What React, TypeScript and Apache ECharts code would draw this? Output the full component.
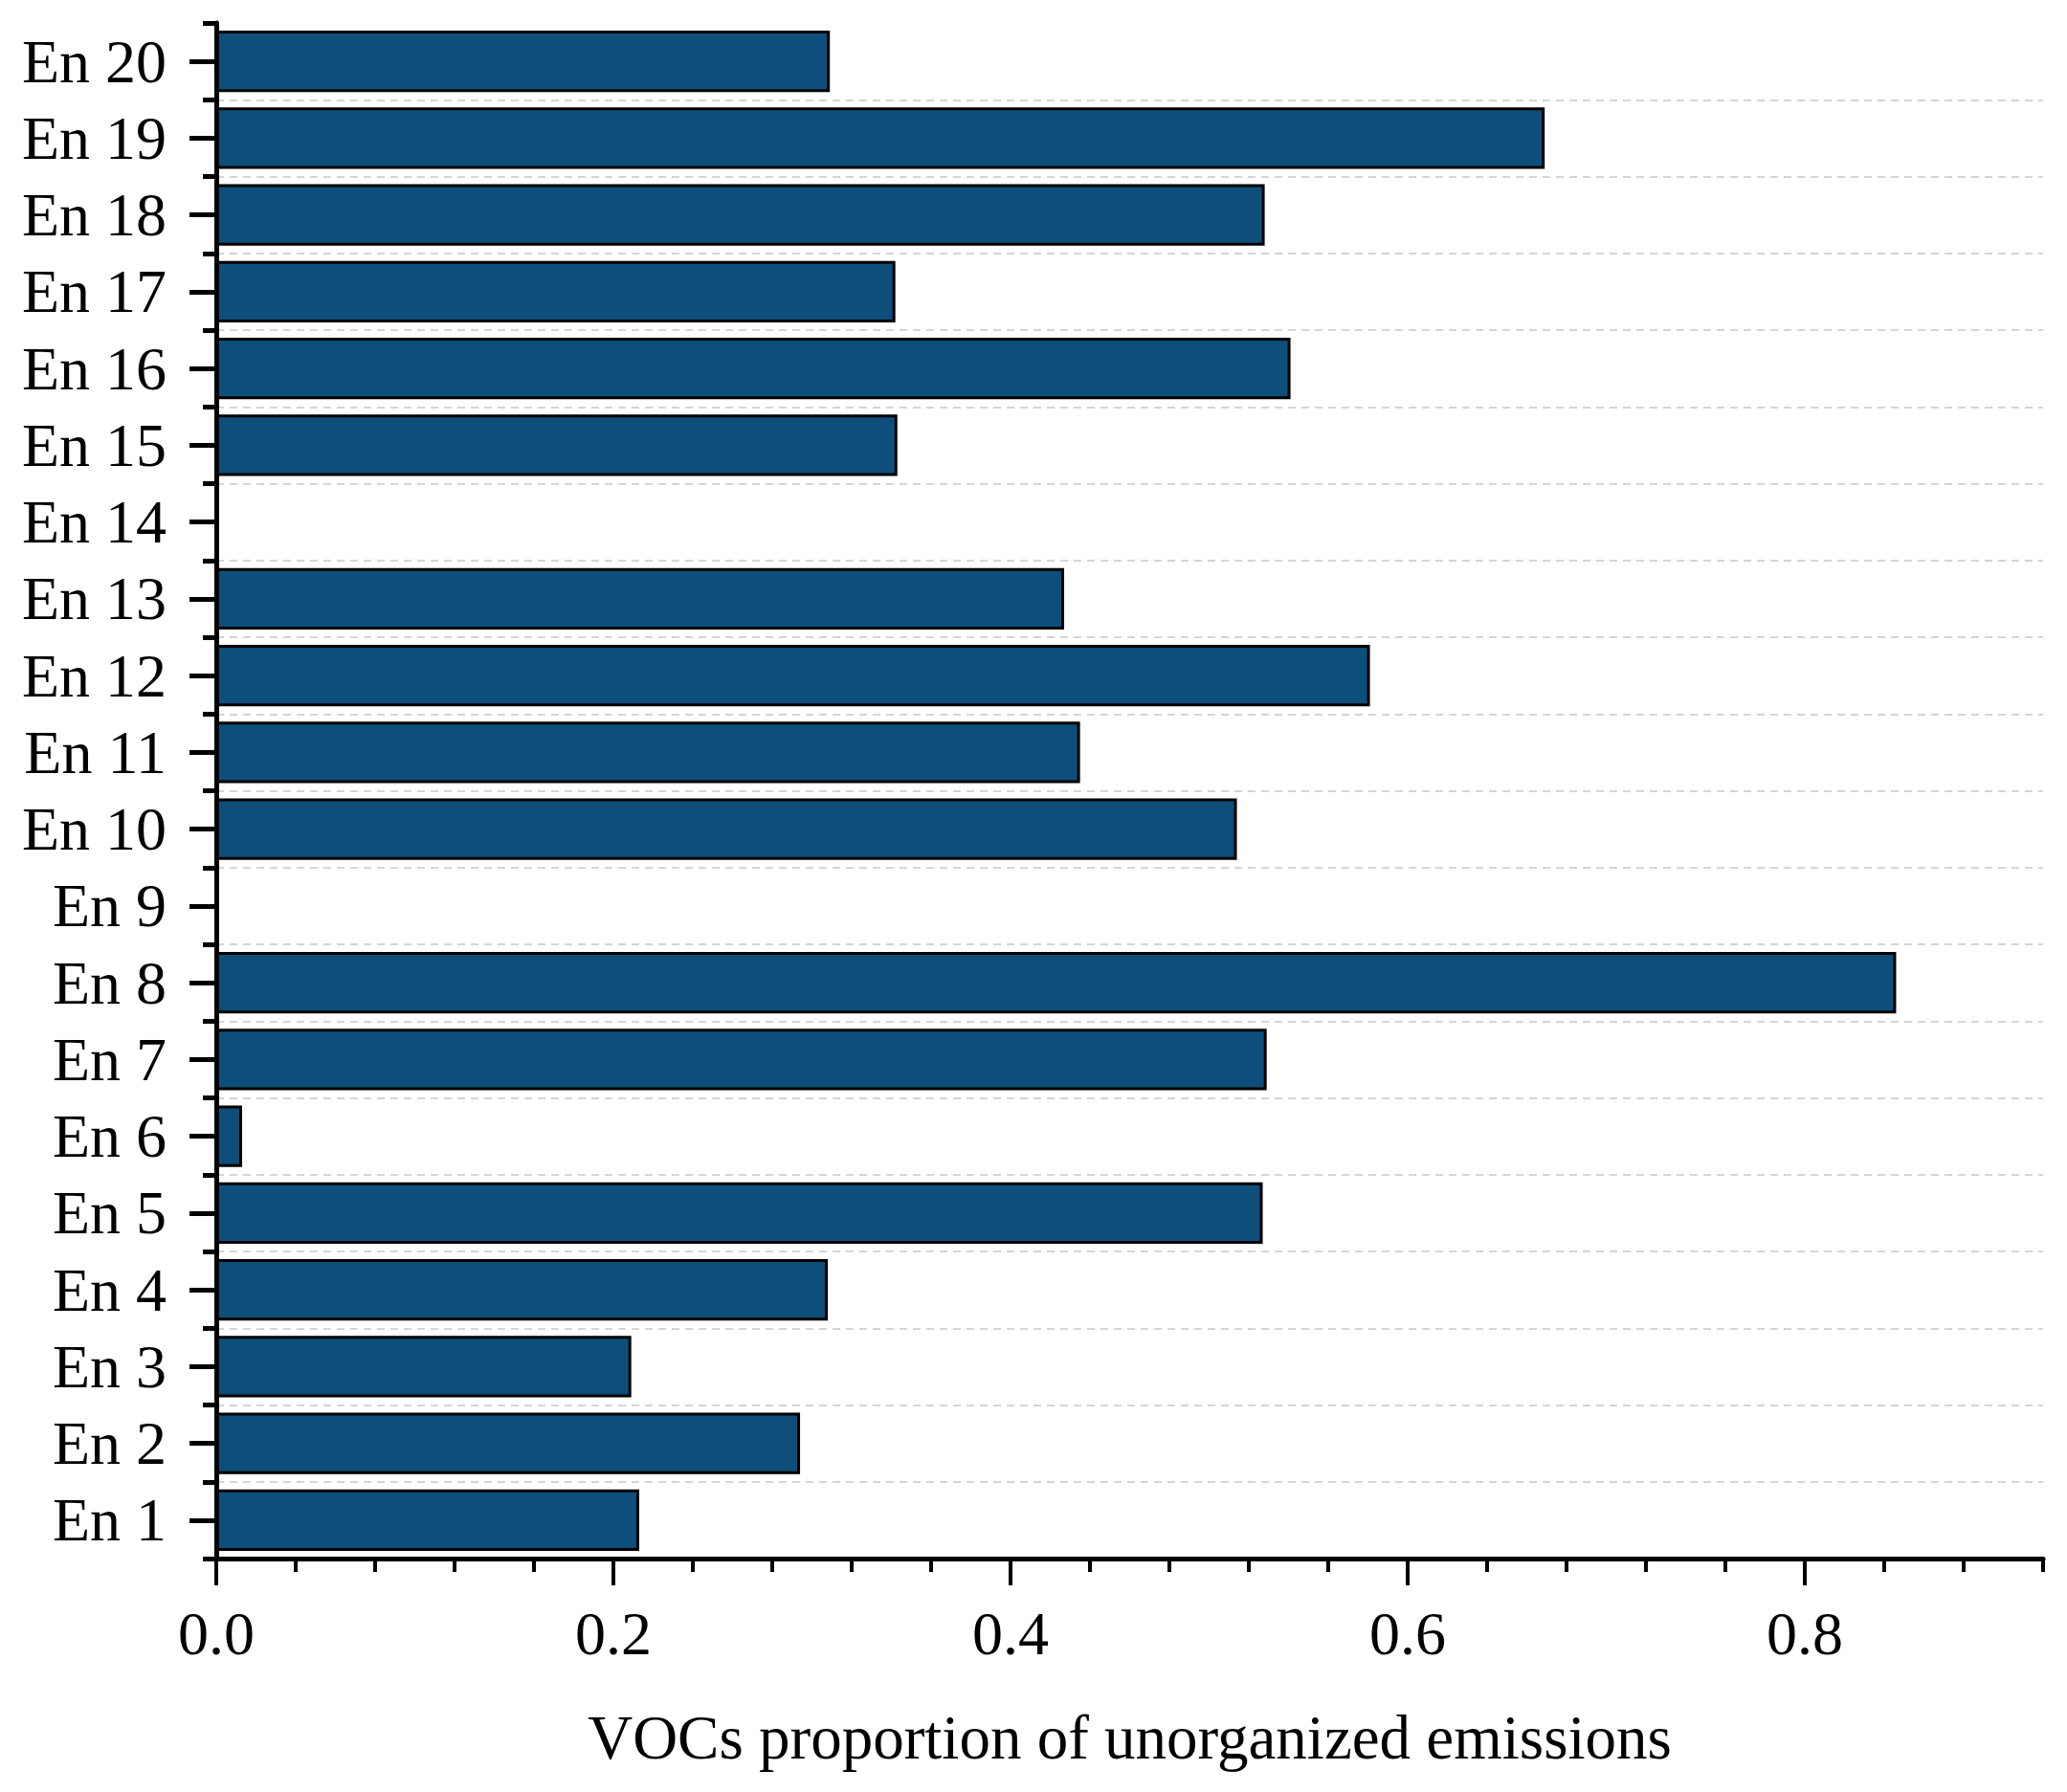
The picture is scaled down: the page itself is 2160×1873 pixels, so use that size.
import React, { useEffect, useRef } from "react";
import * as echarts from "echarts";

const categories: string[] = [
  "En 1", "En 2", "En 3", "En 4", "En 5", "En 6", "En 7", "En 8", "En 9", "En 10",
  "En 11", "En 12", "En 13", "En 14", "En 15", "En 16", "En 17", "En 18", "En 19", "En 20",
];

const values: (number | null)[] = [
  0.213, 0.294, 0.209, 0.308, 0.527, 0.013, 0.529, 0.846, null, 0.514,
  0.435, 0.581, 0.427, null, 0.343, 0.541, 0.342, 0.528, 0.669, 0.309,
];

const majorTicks: number[] = [0, 0.2, 0.4, 0.6, 0.8];
const xMin = 0;
const xMax = 0.92;
const minorInterval = 0.04;
const xTitle = "VOCs proportion of unorganized emissions";

const FONT = '"Liberation Serif", "Times New Roman", serif';

export default function App() {
  const ref = useRef<HTMLDivElement>(null);

  useEffect(() => {
    document.body.style.margin = "0";
    if (!ref.current) return;
    const chart = echarts.init(ref.current, null, { renderer: "svg" });
    chart.setOption({
      animation: false,
      backgroundColor: "#ffffff",
      textStyle: { fontFamily: FONT },
      grid: { left: 226, right: 25, top: 24, bottom: 244, containLabel: false },
      xAxis: [
        {
          type: "value",
          position: "bottom",
          min: xMin,
          max: xMax,
          interval: minorInterval,
          axisLine: { show: true, lineStyle: { color: "#000", width: 5 } },
          axisTick: { show: true, length: 14, lineStyle: { color: "#000", width: 4 } },
          axisLabel: {
            show: true,
            customValues: majorTicks,
            margin: 46,
            fontSize: 64,
            fontFamily: FONT,
            color: "#000",
            formatter: (v: number) => v.toFixed(1),
          },
          splitLine: { show: false },
          name: xTitle,
          nameLocation: "middle",
          nameGap: 154,
          nameTextStyle: { fontSize: 65, fontFamily: FONT, color: "#000" },
        },
        {
          type: "value",
          position: "bottom",
          min: xMin,
          max: xMax,
          axisLine: { show: false },
          axisTick: {
            show: true,
            customValues: majorTicks,
            length: 28,
            lineStyle: { color: "#000", width: 4 },
          },
          axisLabel: { show: false },
          splitLine: { show: false },
        },
      ],
      yAxis: [
        {
          type: "category",
          data: categories,
          position: "left",
          axisLine: { show: true, lineStyle: { color: "#000", width: 5 } },
          axisTick: {
            show: true,
            interval: 0,
            alignWithLabel: true,
            length: 28,
            lineStyle: { color: "#000", width: 5 },
          },
          axisLabel: {
            show: true,
            interval: 0,
            margin: 52,
            fontSize: 64,
            fontFamily: FONT,
            color: "#000",
          },
          splitLine: {
            show: true,
            interval: 0,
            showMinLine: false,
            showMaxLine: false,
            lineStyle: { color: "#c8c8c8", width: 1.5, type: [8, 6] },
          },
        },
        {
          type: "category",
          data: categories,
          position: "left",
          axisLine: { show: false },
          axisTick: {
            show: true,
            interval: 0,
            alignWithLabel: false,
            length: 14,
            lineStyle: { color: "#000", width: 5 },
          },
          axisLabel: { show: false, interval: 0 },
          splitLine: { show: false },
        },
      ],
      series: [
        {
          type: "bar",
          xAxisIndex: 0,
          yAxisIndex: 0,
          data: values,
          barCategoryGap: "20%",
          itemStyle: { color: "#0e4e7a", borderColor: "#000", borderWidth: 3 },
        },
      ],
    });
    return () => chart.dispose();
  }, []);

  return <div ref={ref} style={{ width: 2160, height: 1873 }} />;
}
